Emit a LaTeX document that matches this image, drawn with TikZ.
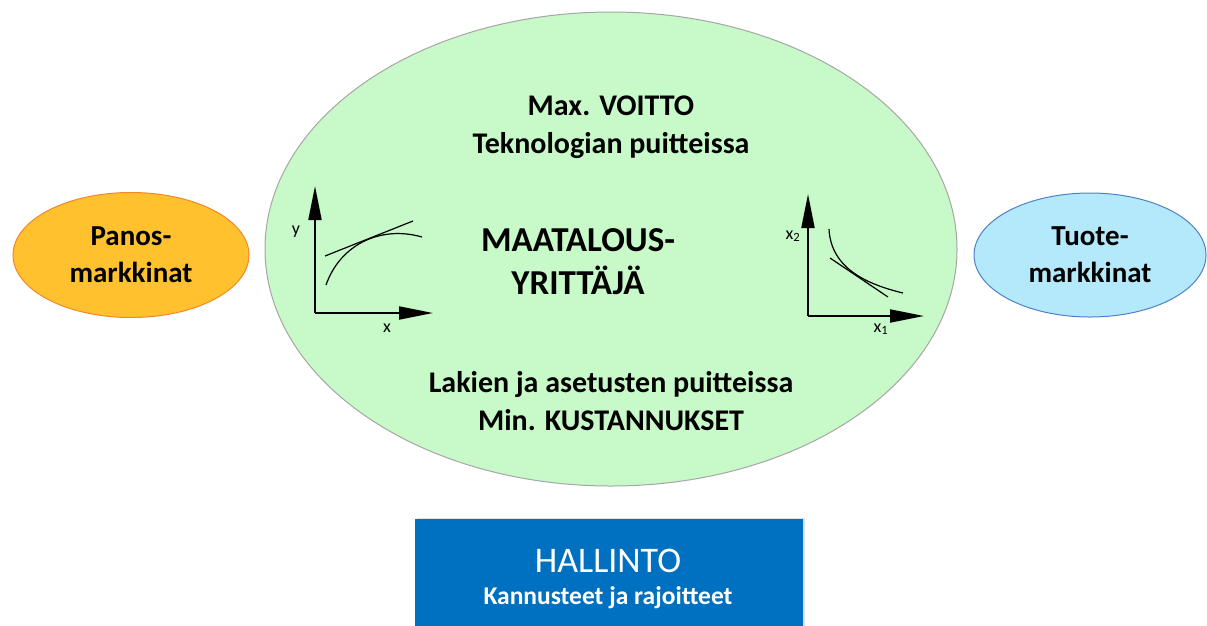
\documentclass[tikz,border=0pt]{standalone}
\usepackage{fontspec}
\setmainfont{Carlito}
\usetikzlibrary{arrows.meta,shapes.geometric,shadows}
\definecolor{bigfill}{HTML}{C8F9C8}
\definecolor{bigdraw}{HTML}{A6A6A6}
\definecolor{orfill}{HTML}{FFC22E}
\definecolor{ordraw}{HTML}{F5862A}
\definecolor{blfill}{HTML}{B3E9FB}
\definecolor{bldraw}{HTML}{4F81C8}
\definecolor{boxfill}{HTML}{0070C0}
\tikzset{
  oval/.style={ellipse, inner sep=0pt, line width=1pt},
  lbl/.style={font=\bfseries\fontsize{30}{38}\selectfont, align=center, inner sep=0pt, text=black},
  biglbl/.style={font=\bfseries\fontsize{35}{43}\selectfont, align=center, inner sep=0pt},
  mkt/.style={font=\bfseries\fontsize{29}{37}\selectfont, align=center, inner sep=0pt},
  axis/.style={line width=2pt, -{Triangle[length=34pt,width=13pt]}},
  curve/.style={line width=1.2pt},
  axlbl/.style={font=\fontsize{18}{18}\selectfont, inner sep=0pt}
}
\begin{document}
\begin{tikzpicture}[x=1pt,y=-1pt]
\useasboundingbox (0,0) rectangle (1207,625);
% main ellipse
\node[oval, draw=bigdraw, fill=bigfill, minimum width=692pt, minimum height=474pt] (farm) at (611,249) {};
\node[oval, draw=ordraw, fill=orfill, minimum width=236pt, minimum height=125pt] (panos) at (131,255) {};
\node[oval, draw=bldraw, fill=blfill, minimum width=232pt, minimum height=124pt] (tuote) at (1090,255) {};
\node[mkt] (panostxt) at (panos.center) {Panos-\\markkinat};
\node[mkt] (tuotetxt) at (tuote.center) {Tuote-\\markkinat};
% texts inside
\node[lbl] (top) at (611,127) {Max. VOITTO\\Teknologian puitteissa};
\node[biglbl] (mid) at (578,262) {MAATALOUS-\\YRITTÄJÄ};
\node[lbl] (bot) at (611,401) {Lakien ja asetusten puitteissa\\Min. KUSTANNUKSET};
% HALLINTO box
\node[draw=none, fill=boxfill, minimum width=388pt, minimum height=110pt, inner sep=0pt, anchor=north west,
      drop shadow={opacity=0.25, shadow xshift=1.5pt, shadow yshift=1.5pt}] (hall) at (415,519) {};
\node[text=white, font=\fontsize{36}{36}\selectfont, inner sep=0pt] (halltitle) at (608,561) {HALLINTO};
\node[text=white, font=\bfseries\fontsize{25.5}{25.5}\selectfont, inner sep=0pt] (hallsub) at (608,598) {Kannusteet ja rajoitteet};
% left chart
\coordinate (lo) at (315,313);
\coordinate (ly) at (315,186);
\coordinate (lx) at (433,313);
\draw[axis] (lo) -- (ly);
\draw[axis] (lo) -- (lx);
\node[axlbl] (lylbl) at (296,232) {y};
\node[axlbl] (lxlbl) at (387,328) {x};
\coordinate (c1a) at (326,285);
\coordinate (c1b) at (422,237);
\draw[curve] (c1a) .. controls (340,245) and (380,225) .. (c1b);
\coordinate (t1a) at (325,256);
\coordinate (t1b) at (413,221);
\draw[curve] (t1a) -- (t1b);
% right chart
\coordinate (ro) at (808,316);
\coordinate (ry) at (808,194);
\coordinate (rx) at (924,316);
\draw[axis] (ro) -- (ry);
\draw[axis] (ro) -- (rx);
\node[axlbl] (rylbl) at (793,236) {x\textsubscript{2}};
\node[axlbl] (rxlbl) at (881,329) {x\textsubscript{1}};
\coordinate (c2a) at (829,229);
\coordinate (c2b) at (903,293);
\draw[curve] (c2a) .. controls (831,270) and (870,285) .. (c2b);
\coordinate (t2a) at (830,258);
\coordinate (t2b) at (888,297);
\draw[curve] (t2a) -- (t2b);
\end{tikzpicture}
\end{document}
